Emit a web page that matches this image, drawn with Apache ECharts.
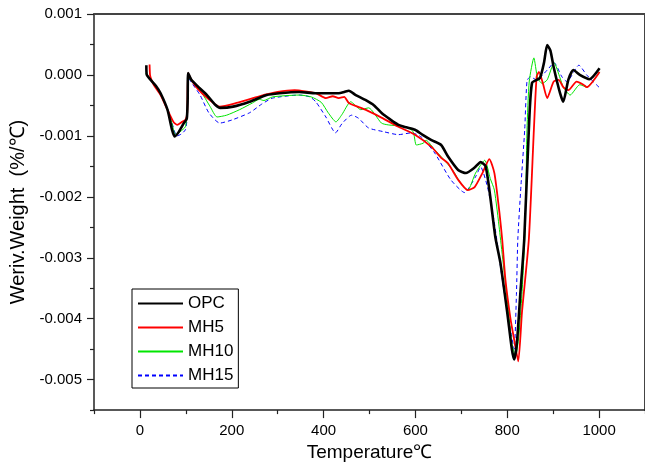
<!DOCTYPE html>
<html>
<head>
<meta charset="utf-8">
<script src="https://cdn.jsdelivr.net/npm/echarts@6/dist/echarts.min.js"></script>
<style>html,body{margin:0;padding:0;background:#fff}#c{width:645px;height:467px}</style>
</head>
<body>
<div id="c"></div>
<script>
const seriesNames = ['OPC', 'MH5', 'MH10', 'MH15'];
const temperatureTicks = [0, 200, 400, 600, 800, 1000];
const temperatureMinorTicks = [-100, 100, 300, 500, 700, 900, 1100];
const weightTicks = [-0.005, -0.004, -0.003, -0.002, -0.001, 0, 0.001];
const weightMinorTicks = [-0.0055, -0.0045, -0.0035, -0.0025, -0.0015, -0.0005, 0.0005];

const opcData = [[14,0.00016],[15,0.0],[22,-0.00007],[35,-0.00018],[45,-0.0003],[60,-0.00057],[70,-0.0009],[76,-0.00101],[85,-0.00093],[95,-0.0008],[102,-0.00072],[104,-0.0004],[105,0.00003],[112,-0.00008],[125,-0.00018],[146,-0.00033],[164,-0.00049],[175,-0.00054],[203,-0.00052],[239,-0.00044],[276,-0.00033],[304,-0.0003],[347,-0.00028],[383,-0.0003],[433,-0.0003],[445,-0.00028],[455,-0.00026],[470,-0.00033],[491,-0.00041],[510,-0.0005],[527,-0.00063],[545,-0.00073],[563,-0.00082],[580,-0.00086],[599,-0.0009],[615,-0.00098],[635,-0.00107],[656,-0.00115],[671,-0.00134],[693,-0.00156],[710,-0.00161],[729,-0.00152],[742,-0.00143],[753,-0.0015],[763,-0.002],[774,-0.00266],[785,-0.00308],[800,-0.0039],[810,-0.0045],[815,-0.00467],[821,-0.0044],[828,-0.00364],[837,-0.0027],[847,-0.0009],[854,-0.00013],[871,-0.00005],[880,0.0002],[887,0.00049],[894,0.0004],[901,0.00013],[915,-0.0003],[922,-0.00044],[933,-0.00008],[944,0.00008],[958,0.0],[979,-0.00007],[1001,0.00011]];
const mh5Data = [[21,0.00017],[22,0.0],[24,-0.00006],[30,-0.00016],[45,-0.00033],[60,-0.00057],[73,-0.00077],[81,-0.00082],[92,-0.00077],[99,-0.00074],[103,-0.00062],[105,0.00003],[112,-0.00008],[126,-0.00023],[150,-0.0004],[174,-0.00052],[210,-0.00046],[260,-0.00035],[300,-0.00028],[337,-0.00025],[383,-0.0003],[405,-0.00038],[420,-0.00035],[433,-0.00038],[445,-0.00036],[455,-0.00046],[491,-0.00057],[526,-0.0007],[563,-0.00085],[599,-0.00098],[635,-0.00118],[656,-0.00136],[671,-0.00145],[693,-0.00172],[714,-0.00189],[729,-0.00184],[746,-0.00161],[761,-0.00138],[772,-0.00161],[783,-0.00226],[789,-0.0027],[796,-0.00336],[807,-0.004],[815,-0.00434],[824,-0.0047],[832,-0.0039],[847,-0.0027],[858,-0.0009],[864,-0.00003],[869,0.00005],[878,-0.00015],[887,-0.00038],[901,-0.00011],[912,-0.00008],[922,-0.0002],[933,-0.00025],[951,-0.00011],[966,-0.00016],[973,-0.0002],[1001,0.00005]];
const mh10Data = [[12,0.00002],[20,-0.00003],[38,-0.00021],[51,-0.00041],[66,-0.00069],[75,-0.00095],[79,-0.00098],[88,-0.00093],[99,-0.00085],[103,-0.0006],[105,-0.00003],[112,-0.0001],[131,-0.00025],[153,-0.00052],[168,-0.00069],[189,-0.00066],[217,-0.00057],[245,-0.00046],[260,-0.0004],[270,-0.00042],[289,-0.00036],[347,-0.00033],[373,-0.00036],[395,-0.00045],[410,-0.00062],[427,-0.00077],[440,-0.00065],[459,-0.00044],[481,-0.00057],[498,-0.00054],[526,-0.00079],[541,-0.00082],[578,-0.00085],[595,-0.00093],[602,-0.00115],[617,-0.00112],[623,-0.00107],[642,-0.00123],[656,-0.00134],[681,-0.00156],[699,-0.00178],[714,-0.00189],[731,-0.00161],[751,-0.0014],[763,-0.0017],[772,-0.00189],[783,-0.00254],[800,-0.0037],[810,-0.0044],[818,-0.00462],[825,-0.0043],[832,-0.0036],[839,-0.0025],[843,-0.0009],[848,-0.0001],[858,0.00028],[866,-0.00005],[876,-0.00014],[887,-0.00008],[902,0.0002],[915,-0.00005],[922,-0.0002],[937,-0.00033],[958,-0.00016],[973,-0.0002],[1001,0.00005]];
const mh15Data = [[14,0.00001],[20,-0.00004],[38,-0.00021],[51,-0.0004],[66,-0.00068],[75,-0.00092],[81,-0.001],[90,-0.00097],[99,-0.0009],[103,-0.0007],[106,-0.00005],[112,-0.00012],[131,-0.00033],[150,-0.00062],[174,-0.00079],[200,-0.00074],[239,-0.00062],[265,-0.00048],[289,-0.00038],[347,-0.00033],[370,-0.00036],[383,-0.00044],[405,-0.00069],[426,-0.00095],[440,-0.0008],[461,-0.00066],[476,-0.00071],[498,-0.00087],[530,-0.00093],[563,-0.00098],[592,-0.00095],[613,-0.00102],[642,-0.00128],[677,-0.00172],[707,-0.00193],[731,-0.00167],[742,-0.00151],[757,-0.00184],[772,-0.00243],[790,-0.0034],[807,-0.00418],[815,-0.0045],[820,-0.0036],[823,-0.0027],[830,-0.0018],[838,-0.0009],[843,-0.0001],[850,-0.00003],[864,-0.00008],[887,0.00008],[902,0.0002],[919,-0.00003],[930,-0.00011],[956,0.00016],[973,0.0],[1001,-0.00021]];

const FONT = 'Liberation Sans, Arial, sans-serif';
const axisColor = '#222';

const chart = echarts.init(document.getElementById('c'), null, {renderer: 'canvas'});
const baseX = {type: 'value', min: -100, max: 1100, splitLine: {show: false}};
const baseY = {type: 'value', min: -0.0055, max: 0.001, splitLine: {show: false}};

chart.setOption({
  animation: false,
  backgroundColor: '#fff',
  grid: {left: 93, top: 14, width: 556, height: 397, containLabel: false},
  legend: {
    orient: 'vertical', left: 132, top: 289,
    data: seriesNames,
    itemWidth: 45, itemHeight: 14, itemGap: 7,
    padding: [6, 5, 4, 5],
    borderColor: '#000', borderWidth: 1, backgroundColor: '#fff',
    itemStyle: {color: 'rgba(0,0,0,0)', borderWidth: 0, opacity: 0},
    textStyle: {fontSize: 17, color: '#000', fontFamily: FONT, padding: [0, 0, 0, 0]}
  },
  xAxis: [
    Object.assign({}, baseX, {
      position: 'bottom',
      name: 'Temperature℃', nameLocation: 'middle', nameGap: 31,
      nameTextStyle: {fontSize: 19, color: '#000', fontFamily: FONT},
      axisLine: {show: true, onZero: false, lineStyle: {color: axisColor, width: 1.5}},
      axisTick: {show: true, inside: false, length: 8, customValues: temperatureTicks, lineStyle: {color: axisColor, width: 1.2}},
      axisLabel: {show: true, margin: 13, fontSize: 15, color: '#000', fontFamily: FONT, customValues: temperatureTicks,
        formatter: function (v) { return String(v); }}
    }),
    Object.assign({}, baseX, {
      position: 'bottom',
      axisLine: {show: false, onZero: false},
      axisTick: {show: true, inside: false, length: 4, customValues: temperatureMinorTicks, lineStyle: {color: axisColor, width: 1.2}},
      axisLabel: {show: false}
    }),
    Object.assign({}, baseX, {
      position: 'top',
      axisLine: {show: true, onZero: false, lineStyle: {color: '#444', width: 2}},
      axisTick: {show: false},
      axisLabel: {show: false}
    })
  ],
  yAxis: [
    Object.assign({}, baseY, {
      position: 'left',
      name: 'Weriv.Weight  (%/℃)', nameLocation: 'middle', nameGap: 66, nameRotate: 90,
      nameTextStyle: {fontSize: 20, color: '#000', fontFamily: FONT},
      axisLine: {show: true, onZero: false, lineStyle: {color: axisColor, width: 1.5}},
      axisTick: {show: true, inside: false, length: 7, customValues: weightTicks, lineStyle: {color: axisColor, width: 1.2}},
      axisLabel: {show: true, margin: 12, fontSize: 15, color: '#000', fontFamily: FONT, customValues: weightTicks,
        formatter: function (v) { return (Math.abs(v) < 1e-9 ? 0 : v).toFixed(3); }}
    }),
    Object.assign({}, baseY, {
      position: 'left',
      axisLine: {show: false, onZero: false},
      axisTick: {show: true, inside: false, length: 4, customValues: weightMinorTicks, lineStyle: {color: axisColor, width: 1.2}},
      axisLabel: {show: false}
    }),
    Object.assign({}, baseY, {
      position: 'right',
      axisLine: {show: true, onZero: false, lineStyle: {color: '#444', width: 2}},
      axisTick: {show: false},
      axisLabel: {show: false}
    })
  ],
  series: [
    {name: 'OPC', type: 'line', data: opcData, showSymbol: false, symbol: 'none', smooth: 0.2, z: 5,
      lineStyle: {color: '#000', width: 2.6}, itemStyle: {color: '#000'}},
    {name: 'MH5', type: 'line', data: mh5Data, showSymbol: false, symbol: 'none', smooth: 0.2, z: 4,
      lineStyle: {color: '#ff0000', width: 1.8}, itemStyle: {color: '#ff0000'}},
    {name: 'MH10', type: 'line', data: mh10Data, showSymbol: false, symbol: 'none', smooth: 0.2, z: 3,
      lineStyle: {color: '#00e600', width: 1}, itemStyle: {color: '#00e600'}},
    {name: 'MH15', type: 'line', data: mh15Data, showSymbol: false, symbol: 'none', smooth: 0.2, z: 2,
      lineStyle: {color: '#0000ff', width: 1, type: [4, 3]}, itemStyle: {color: '#0000ff'}}
  ]
});
</script>
</body>
</html>
